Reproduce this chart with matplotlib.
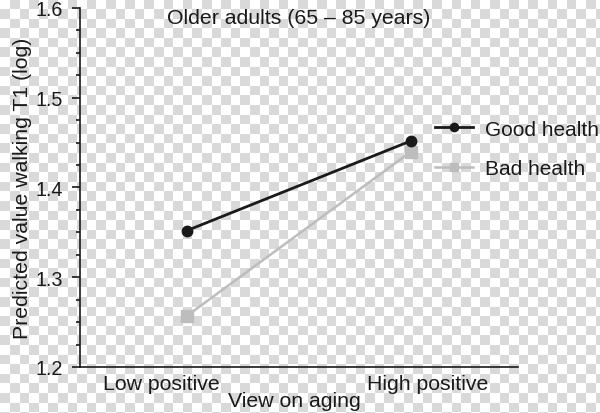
import numpy as np
import matplotlib
matplotlib.use("Agg")
import matplotlib.pyplot as plt
from matplotlib.ticker import MultipleLocator
import matplotlib.transforms as mtransforms

plt.rcParams['font.family'] = ['Liberation Sans', 'DejaVu Sans']

categories = ["Low positive", "High positive"]
good_health = [1.352, 1.452]
bad_health = [1.257, 1.440]
series_names = ["Good health", "Bad health"]
title = "Older adults (65 \u2013 85 years)"
xlabel = "View on aging"
ylabel = "Predicted value walking T1 (log)"

W, H = 600, 414
FS = 15.3
fig = plt.figure(figsize=(W / 100, H / 100), dpi=100)

# transparent-look checkerboard backdrop
bg = fig.add_axes([0, 0, 1, 1], zorder=-10)
yy, xx = np.mgrid[0:H, 0:W]
sq = 9.6
board = ((np.floor(xx / sq) + np.floor(yy / sq)) % 2)
img = np.where(board == 0, 1.0, 0.85)
bg.imshow(img, cmap='gray', vmin=0, vmax=1, interpolation='nearest', aspect='auto')
bg.axis('off')

ax = fig.add_axes([80 / W, (H - 368) / H, (518 - 80) / W, (368 - 9) / H])
ax.patch.set_alpha(0)

x = np.arange(len(categories))
ax.plot(x, good_health, color='#1a1a1a', lw=2.0, marker='o', ms=7.5,
        label=series_names[0], zorder=3)
ax.plot(x, bad_health, color='#bdbdbd', lw=1.8, marker='s', ms=8,
        label=series_names[1], zorder=2)

ax.set_xlim(-0.477, 1.477)
ax.set_ylim(1.2, 1.6)
ax.yaxis.set_major_locator(MultipleLocator(0.1))
ax.yaxis.set_minor_locator(MultipleLocator(0.025))
ax.yaxis.set_major_formatter(matplotlib.ticker.FormatStrFormatter('%.1f'))

for s in ['top', 'right']:
    ax.spines[s].set_visible(False)
for s in ['left', 'bottom']:
    ax.spines[s].set_linewidth(1.2)
    ax.spines[s].set_color('#1a1a1a')

ax.tick_params(axis='y', which='major', length=6, width=1.2, direction='out',
               labelsize=14.2, pad=6, colors='#1a1a1a')
ax.tick_params(axis='y', which='minor', length=3, width=1.2, direction='out',
               colors='#1a1a1a')
ax.set_xticks([])

# category labels (offset from data positions as in reference)
offsets = [-26, 17]
for xi, lab, off in zip(x, categories, offsets):
    tr = mtransforms.blended_transform_factory(ax.transData, ax.transAxes)
    ax.annotate(lab, xy=(xi, 0), xycoords=tr, xytext=(off * 0.72, -17 * 0.72),
                textcoords='offset points', ha='center', va='center',
                fontsize=FS, color='#1a1a1a')

fig.text(294 / W, 1 - 402 / H, xlabel, ha='center', va='center',
         fontsize=FS, color='#1a1a1a')
ax.set_ylabel(ylabel, fontsize=FS, color='#1a1a1a', labelpad=3)
fig.text(299 / W, 1 - 19 / H, title, ha='center', va='center',
         fontsize=FS, color='#1a1a1a')

leg = ax.legend(loc='center left', bbox_to_anchor=(435 / W, 1 - 150 / H),
                bbox_transform=fig.transFigure, frameon=False, fontsize=15.0,
                handlelength=1.8, handletextpad=0.62, labelspacing=1.0,
                borderpad=0, borderaxespad=0, markerscale=0.8)
for t in leg.get_texts():
    t.set_color('#1a1a1a')

fig.savefig('out.png', dpi=100)
